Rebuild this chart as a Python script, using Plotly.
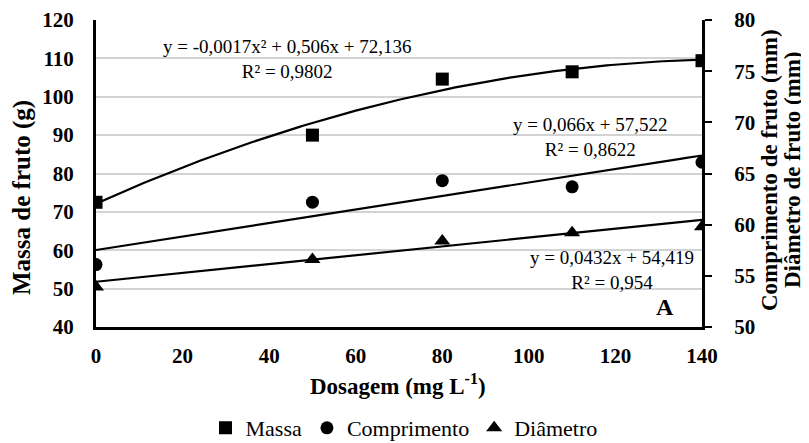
import numpy as np
import plotly.graph_objects as go

dose = [0, 50, 80, 110, 140]
massa = [72.5, 90.0, 104.6, 106.5, 109.4]
comprimento = [56.1, 62.2, 64.3, 63.7, 66.1]
diametro = [53.9, 56.6, 58.4, 59.2, 59.8]

massa_coef = [-0.0017, 0.506, 72.136]
comp_coef = [0.066, 57.522]
diam_coef = [0.0432, 54.419]

eq_massa = ["y = -0,0017x² + 0,506x + 72,136", "R² = 0,9802"]
eq_comp = ["y = 0,066x + 57,522", "R² = 0,8622"]
eq_diam = ["y = 0,0432x + 54,419", "R² = 0,954"]

FONT = "Liberation Serif"
xs = np.linspace(0, 140, 141)

fig = go.Figure()
fig.add_trace(go.Scatter(x=xs, y=np.polyval(massa_coef, xs), mode="lines",
                         line=dict(color="black", width=2.2), showlegend=False, hoverinfo="skip"))
fig.add_trace(go.Scatter(x=xs, y=np.polyval(comp_coef, xs), mode="lines", yaxis="y2",
                         line=dict(color="black", width=2.2), showlegend=False, hoverinfo="skip"))
fig.add_trace(go.Scatter(x=xs, y=np.polyval(diam_coef, xs), mode="lines", yaxis="y2",
                         line=dict(color="black", width=2.2), showlegend=False, hoverinfo="skip"))
fig.add_trace(go.Scatter(x=dose, y=massa, mode="markers", name="Massa",
                         marker=dict(symbol="square", size=13, color="black")))
fig.add_trace(go.Scatter(x=dose, y=comprimento, mode="markers", name="Comprimento", yaxis="y2",
                         marker=dict(symbol="circle", size=13, color="black")))
fig.add_trace(go.Scatter(x=dose, y=diametro, mode="markers", name="Diâmetro", yaxis="y2",
                         marker=dict(symbol="triangle-up", size=14, color="black")))

# page-pixel geometry of plot area (body has 8px default margin)
W0, W1, H0, H1 = 96, 702, 20, 327
def px(xp): return (xp - W0) / (W1 - W0)
def py(yp): return (H1 - yp) / (H1 - H0)

ann = []
def eq(lines, x, y):
    ann.append(dict(text="<br>".join(lines), xref="paper", yref="paper", x=px(x), y=py(y),
                    showarrow=False, font=dict(family=FONT, size=19, color="black"),
                    align="center", xanchor="center", yanchor="middle"))

eq(eq_massa, 287, 59)
eq(eq_comp, 590, 137)
eq(eq_diam, 612, 270)
ann.append(dict(text="A", xref="paper", yref="paper", x=px(665), y=py(307),
                showarrow=False, font=dict(family=FONT, size=24, color="black", weight="bold"),
                xanchor="center", yanchor="middle"))
ann.append(dict(text="Massa de fruto (g)", xref="paper", yref="paper",
                x=px(22), y=py(198), textangle=-90, showarrow=False,
                font=dict(family=FONT, size=25, color="black", weight="bold"),
                xanchor="center", yanchor="middle"))
ann.append(dict(text="Comprimento de fruto (mm)", xref="paper", yref="paper",
                x=px(769), y=py(170), textangle=-90, showarrow=False,
                font=dict(family=FONT, size=23, color="black", weight="bold"),
                xanchor="center", yanchor="middle"))
ann.append(dict(text="Diâmetro de fruto (mm)", xref="paper", yref="paper",
                x=px(792), y=py(170), textangle=-90, showarrow=False,
                font=dict(family=FONT, size=23, color="black", weight="bold"),
                xanchor="center", yanchor="middle"))
ann.append(dict(text="Dosagem (mg L<sup>-1</sup>)", xref="paper", yref="paper",
                x=px(398), y=py(384), showarrow=False,
                font=dict(family=FONT, size=23, color="black", weight="bold"),
                xanchor="center", yanchor="middle"))

tickf = dict(family=FONT, size=21, color="black", weight="bold")
fig.update_layout(
    width=801, height=435,
    margin=dict(l=W0 - 8, r=809 - W1, t=H0 - 8, b=443 - H1, autoexpand=False),
    paper_bgcolor="white", plot_bgcolor="white",
    font=dict(family=FONT, color="black"),
    xaxis=dict(range=[0, 140], tickvals=[0, 20, 40, 60, 80, 100, 120, 140],
               showline=True, linecolor="black", linewidth=3, showgrid=False, zeroline=False,
               ticks="", tickfont=tickf, ticklabelstandoff=8),
    yaxis=dict(range=[40, 120], dtick=10, showline=True, linecolor="black", linewidth=3,
               showgrid=True, gridcolor="#d3d3d3", gridwidth=1.5, zeroline=False, ticks="",
               tickfont=tickf, ticklabelstandoff=15),
    yaxis2=dict(range=[50, 80], dtick=5, overlaying="y", side="right", showline=True,
                linecolor="black", linewidth=3, showgrid=False, zeroline=False,
                ticks="outside", ticklen=7, tickwidth=2, tickcolor="black",
                tickfont=tickf, ticklabelstandoff=18),
    legend=dict(orientation="h", x=px(404), xanchor="center", y=py(428), yanchor="middle",
                font=dict(family=FONT, size=22, color="black"), tracegroupgap=0),
    annotations=ann,
    showlegend=True,
)

fig.write_html("out.html")
